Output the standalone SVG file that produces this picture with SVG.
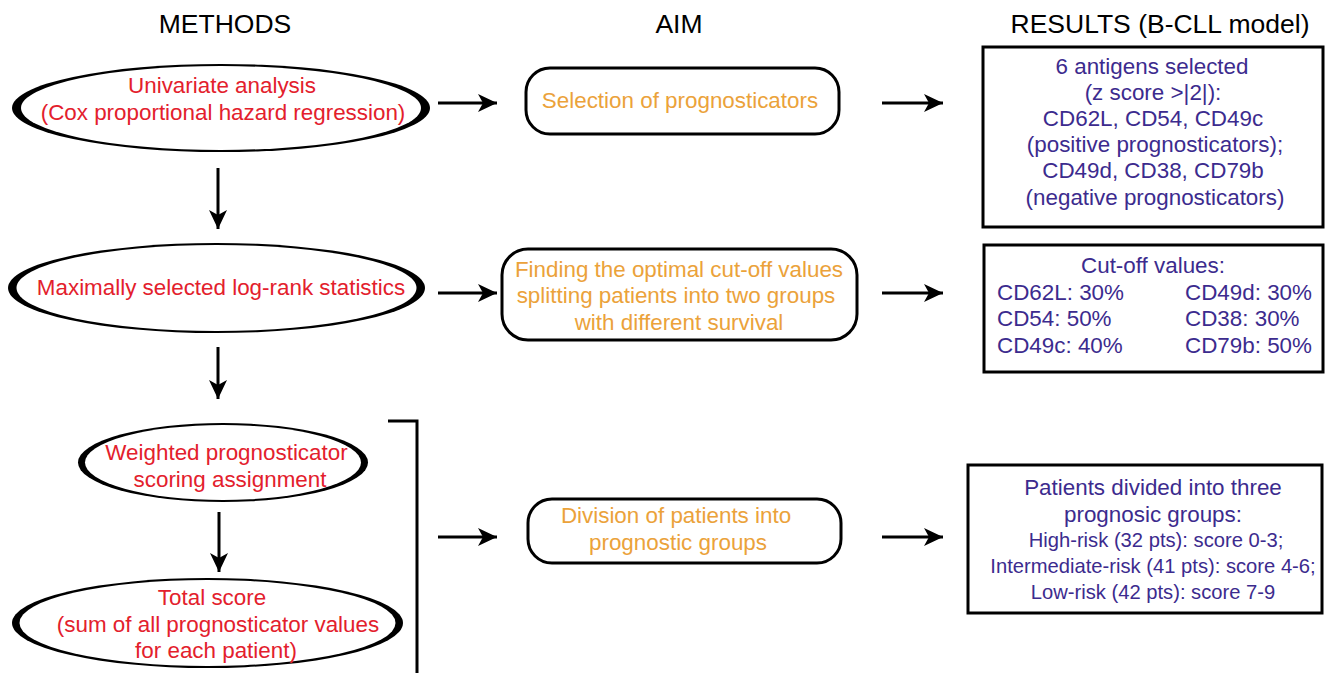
<svg xmlns="http://www.w3.org/2000/svg" width="1328" height="673" viewBox="0 0 1328 673">
<defs>
<style>
.hdr{font-family:"Liberation Sans",Arial,sans-serif;font-size:26.5px;fill:#000;text-anchor:middle}
.t{font-family:"Liberation Sans",Arial,sans-serif;font-size:22.4px;text-anchor:middle}
.red{fill:#e3202c}
.org{fill:#eba23a}
.blu{fill:#3c2b8e}
.sm{font-size:20.2px}
.st{font-family:"Liberation Sans",Arial,sans-serif;font-size:22.4px;fill:#3c2b8e}
.aim{fill:#fff;stroke:#000;stroke-width:3}
.res{fill:#fff;stroke:#000;stroke-width:3}
.conn{stroke:#000;stroke-width:3;fill:none}
.arr{marker-end:url(#ah)}
</style>
<marker id="ah" markerUnits="userSpaceOnUse" markerWidth="20" markerHeight="20" viewBox="0 0 20 20" refX="19" refY="10" orient="auto">
<path d="M0,1 L19,10 L0,19 L5,10 z" fill="#000"/>
</marker>
</defs>

<g id="headers">
<text class="hdr" x="225" y="33">METHODS</text>
<text class="hdr" x="679" y="33">AIM</text>
<text class="hdr" x="1160" y="33">RESULTS (B-CLL model)</text>
</g>

<g id="connectors">
<line class="conn arr" x1="218" y1="168" x2="218" y2="229"/>
<line class="conn arr" x1="218" y1="347" x2="218" y2="399"/>
<line class="conn arr" x1="219" y1="512" x2="219" y2="572"/>
<line class="conn arr" x1="438" y1="103" x2="497" y2="103"/>
<line class="conn arr" x1="882" y1="103" x2="943" y2="103"/>
<line class="conn arr" x1="438" y1="293" x2="497" y2="293"/>
<line class="conn arr" x1="882" y1="293" x2="943" y2="293"/>
<line class="conn arr" x1="438" y1="537" x2="497" y2="537"/>
<line class="conn arr" x1="882" y1="537" x2="943" y2="537"/>
<path class="conn" d="M388,421 H417 V673"/>
</g>

<g id="m1">
<ellipse cx="221" cy="108" rx="209" ry="44" fill="#000"/>
<ellipse cx="221" cy="108" rx="200" ry="42" fill="#fff"/>
<text class="t red" x="222" y="93">Univariate analysis</text>
<text class="t red" x="223" y="120">(Cox proportional hazard regression)</text>
</g>

<g id="m2">
<ellipse cx="216.5" cy="288" rx="208.5" ry="45" fill="#000"/>
<ellipse cx="216.5" cy="288" rx="200" ry="43" fill="#fff"/>
<text class="t red" x="221" y="295">Maximally selected log-rank statistics</text>
</g>

<g id="m3">
<ellipse cx="223" cy="462.5" rx="145" ry="39.5" fill="#000"/>
<ellipse cx="223" cy="462.5" rx="138" ry="37.5" fill="#fff"/>
<text class="t red" x="226.5" y="460">Weighted prognosticator</text>
<text class="t red" x="230" y="487">scoring assignment</text>
</g>

<g id="m4">
<ellipse cx="207.5" cy="623" rx="195.5" ry="45" fill="#000"/>
<ellipse cx="207.5" cy="623" rx="188" ry="43" fill="#fff"/>
<text class="t red" x="212" y="605">Total score</text>
<text class="t red" x="218" y="632">(sum of all prognosticator values</text>
<text class="t red" x="216" y="658">for each patient)</text>
</g>

<g id="a1">
<rect class="aim" x="526" y="68" width="313" height="66" rx="24"/>
<text class="t org" x="680" y="108">Selection of prognosticators</text>
</g>

<g id="a2">
<rect class="aim" x="502" y="249" width="355" height="91" rx="26"/>
<text class="t org" x="679" y="277">Finding the optimal cut-off values</text>
<text class="t org" x="676" y="303">splitting patients into two groups</text>
<text class="t org" x="679" y="330">with different survival</text>
</g>

<g id="a3">
<rect class="aim" x="528" y="499" width="313" height="64" rx="24"/>
<text class="t org" x="676" y="523">Division of patients into</text>
<text class="t org" x="678" y="550">prognostic groups</text>
</g>

<g id="r1">
<rect class="res" x="983" y="47" width="340" height="180"/>
<text class="t blu" x="1152" y="74">6 antigens selected</text>
<text class="t blu" x="1153" y="100">(z score &gt;|2|):</text>
<text class="t blu" x="1153" y="126">CD62L, CD54, CD49c</text>
<text class="t blu" x="1155" y="152">(positive prognosticators);</text>
<text class="t blu" x="1153" y="178">CD49d, CD38, CD79b</text>
<text class="t blu" x="1155" y="205">(negative prognosticators)</text>
</g>

<g id="r2">
<rect class="res" x="984" y="245" width="339" height="127"/>
<text class="t blu" x="1153" y="273">Cut-off values:</text>
<text class="st" x="997" y="300">CD62L: 30%</text>
<text class="st" x="997" y="326">CD54: 50%</text>
<text class="st" x="997" y="353">CD49c: 40%</text>
<text class="st" x="1185" y="300">CD49d: 30%</text>
<text class="st" x="1185" y="326">CD38: 30%</text>
<text class="st" x="1185" y="353">CD79b: 50%</text>
</g>

<g id="r3">
<rect class="res" x="968" y="465" width="354" height="148"/>
<text class="t blu" x="1153" y="495">Patients divided into three</text>
<text class="t blu" x="1153" y="522">prognosic groups:</text>
<text class="t blu sm" x="1156" y="547">High-risk (32 pts): score 0-3;</text>
<text class="t blu sm" x="1153" y="573">Intermediate-risk (41 pts): score 4-6;</text>
<text class="t blu sm" x="1153" y="599">Low-risk (42 pts): score 7-9</text>
</g>
</svg>
